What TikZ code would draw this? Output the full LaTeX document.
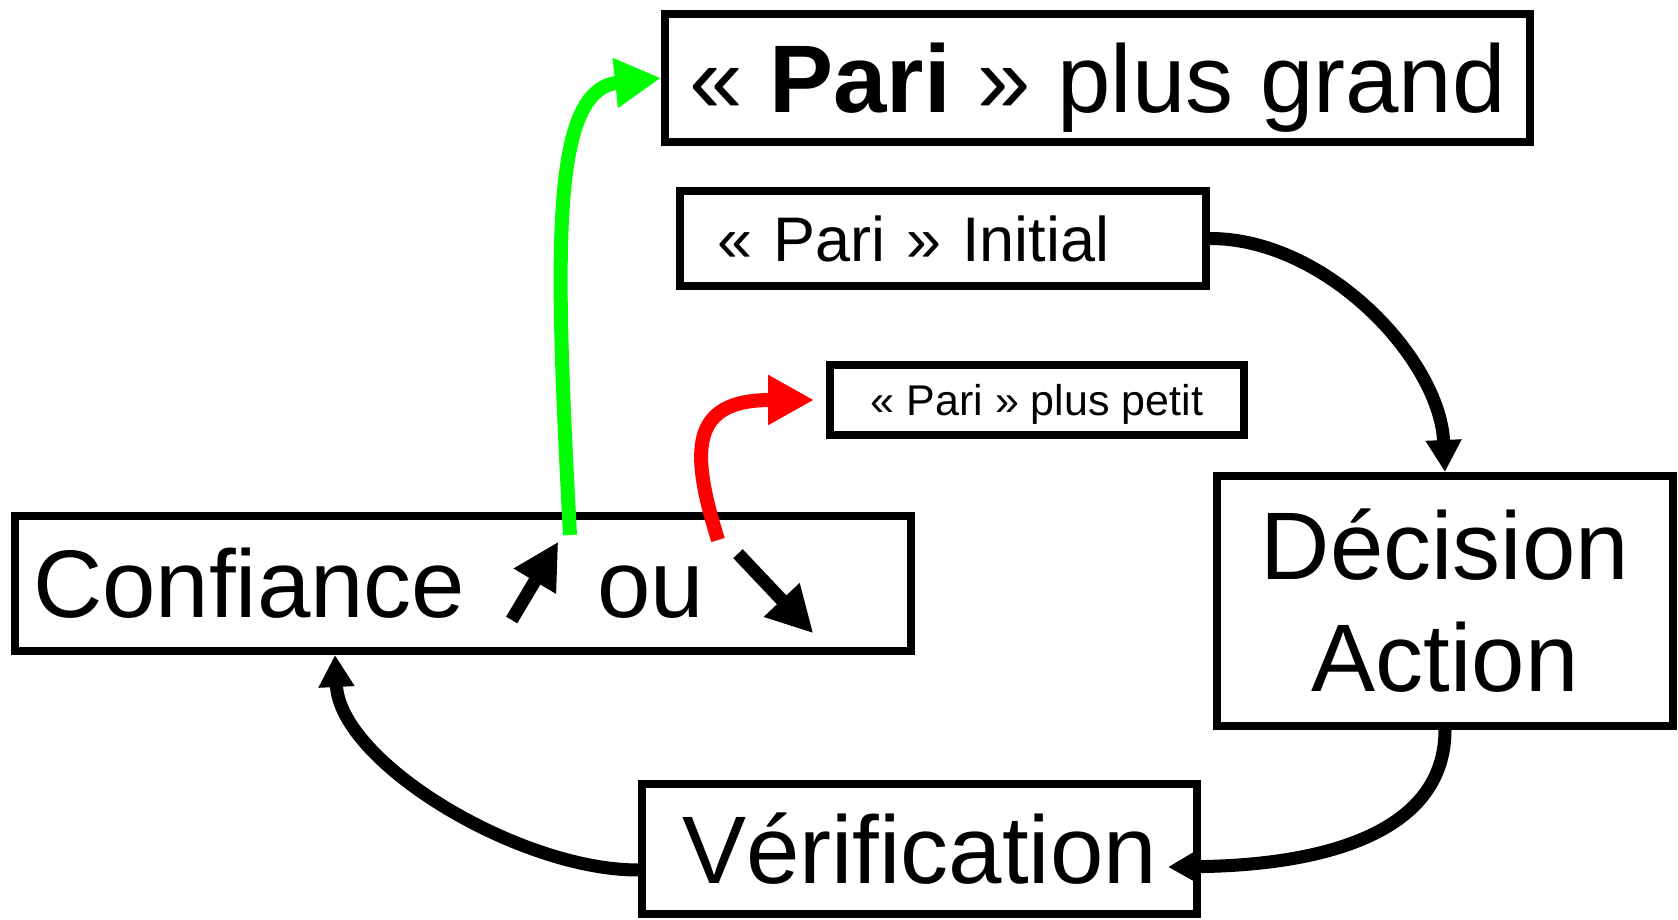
\documentclass[tikz,border=0pt]{standalone}
\usepackage{fontspec}
\setmainfont{Liberation Sans}
\usetikzlibrary{arrows.meta}
\definecolor{vert}{RGB}{0,255,0}
\definecolor{rouge}{RGB}{255,0,0}

\begin{document}
\begin{tikzpicture}[x=0.5pt,y=0.5pt,
    boite/.style={draw,line width=4pt,inner sep=0pt,align=center},
    gros/.style={font=\fontsize{48}{56}\selectfont},
    lien/.style={line width=6.5pt,-{Triangle[length=16pt,width=17pt]}},
    choix/.style={line width=7pt,-{Triangle[length=23pt,width=23.5pt]}},
    fleche/.style={line width=6.5pt,-{Triangle[length=23pt,width=23pt]}}]
        % \draw[help lines] (0,0) grid (1678,920);
      \useasboundingbox (0,0) rectangle (1678,920);

      \node[boite,gros,minimum width=432.5pt,minimum height=64pt,text height=34.4pt,text depth=0pt] (grand) at (1097.5,842) {« \textbf{Pari} » plus grand};
      \node[boite,font=\fontsize{31.5}{36}\selectfont,text width=226pt,align=left,inner xsep=18.5pt,minimum height=47.5pt] (ini) at (943,681.5) {« Pari » Initial};
      \node[boite,font=\fontsize{21.5}{25}\selectfont,minimum width=207pt,minimum height=35pt,text height=15.4pt,text depth=0pt] (petit) at (1037,520) {« Pari » plus petit};
      \node[boite,gros,text width=430pt,align=left,inner xsep=9pt,minimum height=67.5pt] (conf) at (463,336.5) {Confiance\hspace{66pt}ou};
      \node[boite,gros,minimum width=228pt,minimum height=125pt] (deci) at (1445,319) {Décision\\Action};
      \node[boite,gros,minimum width=277.5pt,minimum height=65pt] (verif) at (919.5,71) {Vérification};

      % fleches dans la confiance
      \coordinate (mbas)  at (511.7,300);
      \coordinate (mhaut) at (558.3,378.3);
      \coordinate (dhaut) at (738,366.3);
      \coordinate (dbas)  at (813.3,286.7);
      \draw[fleche] (mbas) -- (mhaut);
      \draw[fleche] (dhaut) -- (dbas);

      \coordinate (hausse) at (570,385);
      \coordinate (baisse) at (718,380);
      \draw[choix,vert]  (hausse) .. controls (555,670) and (550,830) .. (grand.west);
      \draw[choix,rouge] (baisse) .. controls (690,470) and (690,520) .. ([xshift=-6pt]petit.west);

      % la boucle
      \draw[lien] (ini.east) .. controls +(117,0) and +(-5,112) .. (deci.north);
      \draw[lien] (deci.south) .. controls +(0,-100) and +(162,2) .. ([shift={(-16.5pt,-9pt)}]verif.east);
      \draw[lien] ([yshift=-10.5pt]verif.west) .. controls +(-120,0) and +(5,-107) .. ([xshift=162pt]conf.south west);
    \end{tikzpicture}
\end{document}
